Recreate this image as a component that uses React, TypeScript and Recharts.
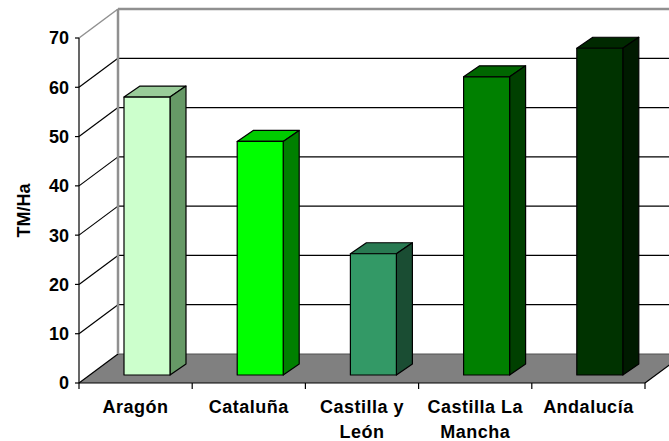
import React from 'react';
import { BarChart, Bar, XAxis, YAxis, CartesianGrid, Text } from 'recharts';

const regions = ['Aragón', 'Cataluña', 'Castilla y León', 'Castilla La Mancha', 'Andalucía'];
const yields = [56.4, 47.4, 24.6, 60.5, 66.3];
const yTicks = [0, 10, 20, 30, 40, 50, 60, 70];

const data = regions.map((region, i) => ({ region, value: yields[i] }));

const FRONT = ['#CCFFCC', '#00FF00', '#339966', '#008000', '#003300'];
const TOP = ['#99CC99', '#00CC00', '#297A52', '#006600', '#002900'];
const SIDE = ['#669966', '#008000', '#1A4D33', '#004000', '#001A00'];

const FONT = '"Liberation Sans", Arial, Helvetica, sans-serif';
const WALL_DX = 39;
const WALL_DY = -29;
const BAR_DX = 11;
const BAR_DY = -8;
const DEPTH_X = 16;
const DEPTH_Y = -11;
const X_TICK_LEN = 6;

function Bar3D(props: any) {
  const { x, y, width, height, index } = props;
  if (x == null || y == null || !width || height == null) return null;
  const fx = x + BAR_DX;
  const fy = y + BAR_DY;
  const r = fx + width;
  const b = fy + height;
  const top = `${fx},${fy} ${fx + DEPTH_X},${fy + DEPTH_Y} ${r + DEPTH_X},${fy + DEPTH_Y} ${r},${fy}`;
  const side = `${r},${fy} ${r + DEPTH_X},${fy + DEPTH_Y} ${r + DEPTH_X},${b + DEPTH_Y} ${r},${b}`;
  return (
    <g stroke="#000" strokeWidth={1.2} strokeLinejoin="round">
      <polygon points={top} fill={TOP[index]} />
      <polygon points={side} fill={SIDE[index]} />
      <rect x={fx} y={fy} width={width} height={height} fill={FRONT[index]} />
    </g>
  );
}

function WallLine(props: any) {
  const { x1, y1, x2, y, height, index } = props;
  const k = `wall-${index}`;
  const hasBox = typeof y === 'number' && typeof height === 'number';
  const isTop = hasBox ? Math.abs(y1 - y) < 0.5 : index === yTicks.length - 1;
  const isBottom = hasBox ? Math.abs(y1 - (y + height)) < 0.5 : index === 0;
  const bx1 = x1 + WALL_DX;
  const bx2 = x2 + WALL_DX;
  const by = y1 + WALL_DY;
  if (isBottom) {
    return (
      <g key={k}>
        <polygon points={`${x1},${y1} ${x2},${y1} ${bx2},${by} ${bx1},${by}`} fill="#808080" stroke="none" />
        <line x1={bx1} y1={by} x2={bx2} y2={by} stroke="#505050" strokeWidth={1} />
        <line x1={x1} y1={y1} x2={bx1} y2={by} stroke="#000" strokeWidth={1.2} />
        <line x1={x2} y1={y1} x2={bx2} y2={by} stroke="#000" strokeWidth={1.2} />
      </g>
    );
  }
  if (isTop) {
    const floorBack = hasBox ? y + height + WALL_DY : by;
    return (
      <g key={k}>
        <line x1={bx1} y1={by} x2={bx1} y2={floorBack} stroke="#909090" strokeWidth={2.5} />
        <line x1={bx1} y1={by} x2={bx2} y2={by} stroke="#909090" strokeWidth={2.5} />
        <line x1={x1} y1={y1} x2={bx1} y2={by} stroke="#909090" strokeWidth={1.5} />
      </g>
    );
  }
  return (
    <g key={k}>
      <line x1={x1} y1={y1} x2={bx1} y2={by} stroke="#000" strokeWidth={1.2} />
      <line x1={bx1} y1={by} x2={bx2} y2={by} stroke="#000" strokeWidth={1.2} />
    </g>
  );
}

function CategoryTick(props: any) {
  const { x, y, payload, index } = props;
  const half = payload && typeof payload.offset === 'number' ? payload.offset : null;
  const axisY = y - 8;
  return (
    <g>
      {half != null && (
        <line x1={x - half} y1={axisY} x2={x - half} y2={axisY + X_TICK_LEN} stroke="#000" strokeWidth={1.2} />
      )}
      {half != null && index === regions.length - 1 && (
        <line x1={x + half} y1={axisY} x2={x + half} y2={axisY + X_TICK_LEN} stroke="#000" strokeWidth={1.2} />
      )}
      <Text
        x={x}
        y={y + 9}
        width={112}
        textAnchor="middle"
        verticalAnchor="start"
        lineHeight={25}
        fill="#000"
        fontFamily={FONT}
        fontSize={18}
        fontWeight="bold"
        letterSpacing={0.5}
        style={{ fontFamily: FONT, fontSize: 18, fontWeight: 'bold', letterSpacing: 0.5 }}
      >
        {payload.value}
      </Text>
    </g>
  );
}

function YTitle(props: any) {
  const vb = props.viewBox || { y: 38, height: 345 };
  const cy = vb.y + vb.height / 2;
  return (
    <text
      x={24}
      y={cy}
      transform={`rotate(-90, 24, ${cy})`}
      textAnchor="middle"
      dominantBaseline="central"
      fontFamily={FONT}
      fontSize={18}
      fontWeight="bold"
      fill="#000"
    >
      TM/Ha
    </text>
  );
}

export default function App() {
  return (
    <div style={{ position: 'absolute', left: 0, top: 0, width: 669, height: 441, background: '#fff' }}>
      <BarChart
        width={669}
        height={441}
        data={data}
        margin={{ top: 38, right: 24, bottom: 0, left: 0 }}
        barCategoryGap={0}
      >
        <CartesianGrid horizontal={WallLine} vertical={false} />
        <XAxis
          dataKey="region"
          height={58}
          interval={0}
          axisLine={{ stroke: '#000', strokeWidth: 1.2 }}
          tickLine={false}
          tickSize={6}
          tickMargin={2}
          tick={<CategoryTick />}
        />
        <YAxis
          width={79}
          domain={[0, 70]}
          ticks={yTicks}
          interval={0}
          axisLine={{ stroke: '#000', strokeWidth: 1.2 }}
          tickLine={{ stroke: '#000', strokeWidth: 1.2 }}
          tickSize={4}
          tickMargin={6}
          tick={{ fill: '#000', fontFamily: FONT, fontSize: 18, fontWeight: 'bold' }}
          label={{ content: <YTitle /> }}
        />
        <Bar dataKey="value" barSize={46} shape={<Bar3D />} isAnimationActive={false} />
      </BarChart>
    </div>
  );
}
